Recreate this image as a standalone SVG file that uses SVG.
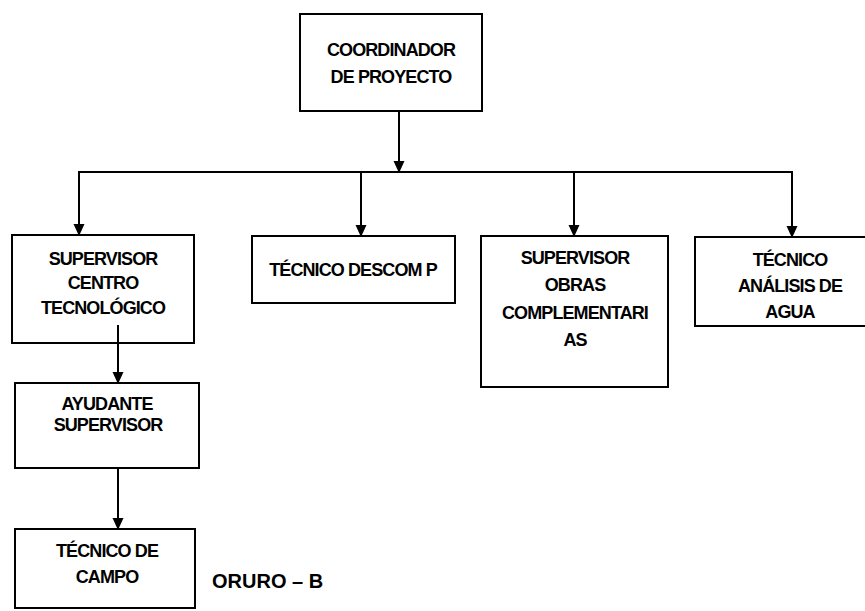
<svg xmlns="http://www.w3.org/2000/svg" width="865" height="611" viewBox="0 0 865 611">
<defs>
<style>
.box{fill:#fff;stroke:#000;stroke-width:2}
.t{font-family:"Liberation Sans",Arial,sans-serif;font-size:18px;font-weight:bold;text-anchor:middle;fill:#000;letter-spacing:-0.9px}
.c{stroke:#000;stroke-width:2;fill:none}
.big{font-family:"Liberation Sans",Arial,sans-serif;font-size:20px;font-weight:bold;fill:#000}
</style>
<marker id="ah" markerWidth="12" markerHeight="12" viewBox="0 0 12 12" refX="11" refY="6" orient="auto" markerUnits="userSpaceOnUse">
<path d="M0,0.5 L12,6 L0,11.5 Z" fill="#000"/>
</marker>
</defs>
<rect width="865" height="611" fill="#fff"/>
<g id="connectors">
<line class="c" x1="399" y1="111" x2="399" y2="172" marker-end="url(#ah)"/>
<polyline class="c" points="79,180 79,172 792,172 792,180"/>
<line class="c" x1="79" y1="172" x2="79" y2="235" marker-end="url(#ah)"/>
<line class="c" x1="361" y1="172" x2="361" y2="236" marker-end="url(#ah)"/>
<line class="c" x1="574" y1="172" x2="574" y2="236" marker-end="url(#ah)"/>
<line class="c" x1="792" y1="172" x2="792" y2="237" marker-end="url(#ah)"/>
</g>
<g id="n_coord">
<rect class="box" x="300" y="14" width="182" height="97"/>
<text class="t" x="391" y="56">COORDINADOR</text>
<text class="t" x="391" y="83">DE PROYECTO</text>
</g>
<g id="n_sup_centro">
<rect class="box" x="12" y="235" width="182" height="108"/>
<text class="t" x="103" y="265">SUPERVISOR</text>
<text class="t" x="103" y="289">CENTRO</text>
<text class="t" x="103" y="314">TECNOLÓGICO</text>
</g>
<g id="n_descom">
<rect class="box" x="252" y="236" width="203" height="67"/>
<text class="t" x="353" y="276">TÉCNICO DESCOM P</text>
</g>
<g id="n_sup_obras">
<rect class="box" x="481" y="236" width="187" height="151"/>
<text class="t" x="575" y="264">SUPERVISOR</text>
<text class="t" x="575" y="291">OBRAS</text>
<text class="t" x="575" y="319">COMPLEMENTARI</text>
<text class="t" x="575" y="346">AS</text>
</g>
<g id="n_agua">
<rect class="box" x="695" y="237" width="180" height="89"/>
<text class="t" x="790" y="266">TÉCNICO</text>
<text class="t" x="790" y="292">ANÁLISIS DE</text>
<text class="t" x="790" y="318">AGUA</text>
</g>
<g id="n_ayudante">
<rect class="box" x="15" y="383" width="184" height="85"/>
<text class="t" x="107" y="410">AYUDANTE</text>
<text class="t" x="108" y="431">SUPERVISOR</text>
</g>
<g id="n_campo">
<rect class="box" x="15" y="529" width="180" height="79"/>
<text class="t" x="107" y="557">TÉCNICO DE</text>
<text class="t" x="107" y="583">CAMPO</text>
</g>
<g id="connectors2">
<line class="c" x1="118" y1="325" x2="118" y2="383" marker-end="url(#ah)"/>
<line class="c" x1="118" y1="468" x2="118" y2="529" marker-end="url(#ah)"/>
</g>
<text class="big" x="212" y="588">ORURO – B</text>
</svg>
